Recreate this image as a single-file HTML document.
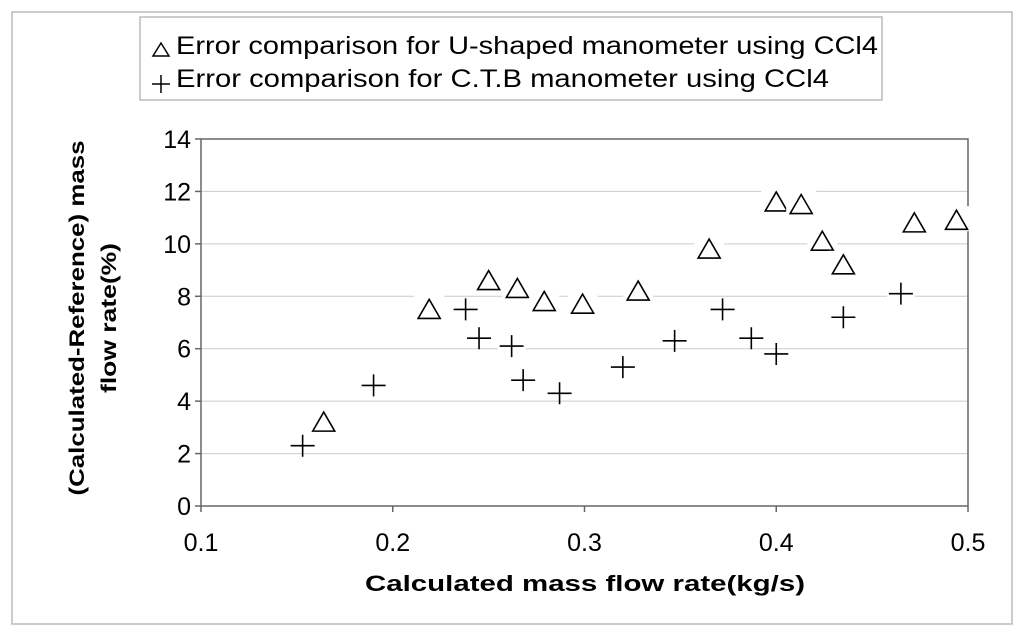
<!DOCTYPE html>
<html><head><meta charset="utf-8"><style>body{margin:0;background:#fff}svg{display:block}text{font-family:"Liberation Sans",Arial,sans-serif}</style></head>
<body>
<svg id="c" width="1024" height="637" xmlns="http://www.w3.org/2000/svg">
<rect x="12" y="12" width="1000" height="612" fill="#fff" stroke="#bbb" stroke-width="1.5"/>
<g>
<rect x="140" y="17" width="742" height="83" fill="#fff" stroke="#bbb" stroke-width="1.5"/>
<g>
<path d="M153,56 L161,43 L169,56 Z" fill="none" stroke="#000" stroke-width="1.5"/>
<text x="176" y="54" font-size="25" textLength="702" lengthAdjust="spacingAndGlyphs">Error comparison for U-shaped manometer using CCl4</text>
</g>
<g>
<path d="M152,84 H170 M161,75 V93" stroke="#000" stroke-width="1.5"/>
<text x="176" y="87" font-size="25" textLength="653" lengthAdjust="spacingAndGlyphs">Error comparison for C.T.B manometer using CCl4</text>
</g>
</g>
<g id="grid"></g>
<g id="axes"></g>
<g id="marks"></g>
<text x="585" y="591" font-size="22" font-weight="bold" text-anchor="middle" textLength="440" lengthAdjust="spacingAndGlyphs">Calculated mass flow rate(kg/s)</text>
<g transform="translate(0,318) rotate(-90)">
<text x="0" y="84" font-size="21" font-weight="bold" text-anchor="middle" textLength="355" lengthAdjust="spacingAndGlyphs">(Calculated-Reference) mass</text>
<text x="0" y="116" font-size="21" font-weight="bold" text-anchor="middle" textLength="150" lengthAdjust="spacingAndGlyphs">flow rate(%)</text>
</g>
</svg>
<script>
const xTicks=[0.1,0.2,0.3,0.4,0.5];
const yTicks=[0,2,4,6,8,10,12,14];
const uX=[0.164,0.219,0.25,0.265,0.279,0.299,0.328,0.365,0.4,0.413,0.424,0.435,0.472,0.494];
const uY=[3.2,7.5,8.6,8.3,7.8,7.7,8.2,9.8,11.6,11.5,10.1,9.2,10.8,10.9];
const cX=[0.153,0.19,0.238,0.245,0.262,0.268,0.287,0.32,0.347,0.372,0.387,0.4,0.435,0.465];
const cY=[2.3,4.6,7.5,6.4,6.1,4.8,4.3,5.3,6.3,7.5,6.4,5.8,7.2,8.1];
const X0=201,X1=968,Y0=506,Y1=139;
const sx=v=>X0+(v-0.1)/0.4*(X1-X0);
const sy=v=>Y0-(v/14)*(Y0-Y1);
const NS='http://www.w3.org/2000/svg';
function mk(t,a,p){const e=document.createElementNS(NS,t);for(const k in a)e.setAttribute(k,a[k]);p.appendChild(e);return e;}
const grid=document.getElementById('grid'),axes=document.getElementById('axes'),marks=document.getElementById('marks');
yTicks.forEach(v=>{
 if(v>0&&v<14){const g=mk('line',{x1:X0,x2:X1,y1:sy(v),y2:sy(v),stroke:'#ccc','stroke-width':1},grid);
 
 }
 mk('line',{x1:X0-6,x2:X0,y1:sy(v),y2:sy(v),stroke:'#666','stroke-width':1.5},axes);
 const t=mk('text',{x:X0-10,y:sy(v)+9,'font-size':25,'text-anchor':'end'},axes);t.textContent=v;
 
 
});
xTicks.forEach(v=>{
 mk('line',{x1:sx(v),x2:sx(v),y1:Y0,y2:Y0+6,stroke:'#666','stroke-width':1.5},axes);
 const t=mk('text',{x:sx(v),y:Y0+45,'font-size':25,'text-anchor':'middle'},axes);t.textContent=v;
 
 
});
const fr=mk('rect',{x:X0,y:Y1,width:X1-X0,height:Y0-Y1,fill:'none',stroke:'#666','stroke-width':1.5},axes);


uX.forEach((v,i)=>{const x=sx(v),y=sy(uY[i]);
 mk('rect',{x:x-15,y:y-14,width:30,height:25,fill:'#fff'},marks);
 const p=mk('path',{d:`M${x-11},${y+9} L${x},${y-10} L${x+11},${y+9} Z`,fill:'none',stroke:'#000','stroke-width':1.6},marks);
 
 });
cX.forEach((v,i)=>{const x=sx(v),y=sy(cY[i]);
 mk('rect',{x:x-14,y:y-4,width:28,height:8,fill:'#fff'},marks);
 const p=mk('path',{d:`M${x-12},${y} H${x+12} M${x},${y-11} V${y+11}`,stroke:'#000','stroke-width':1.6},marks);
 
 });
</script>
</body></html>
